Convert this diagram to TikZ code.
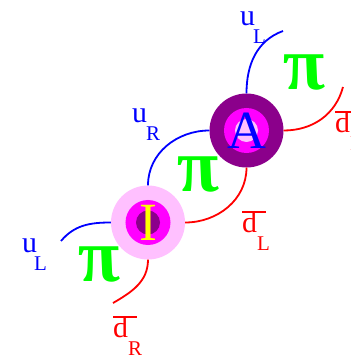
\documentclass[tikz,border=0pt]{standalone}
\usepackage{fontspec}
\setmainfont{Liberation Serif}
\usetikzlibrary{positioning}
\definecolor{Meson_Pink}{HTML}{FFC0FF}
\definecolor{Meson_Magenta}{HTML}{FF00FF}
\definecolor{Meson_Purple}{HTML}{8B008B}
\definecolor{Meson_Green}{HTML}{00FF00}
\definecolor{Meson_Yellow}{HTML}{FFFF00}
\newcommand{\antid}{\rlap{\raisebox{0.64em}{\rule{0.8em}{0.07em}}}d}
\newcommand{\flav}[3]{#1\kern#2\raisebox{-18bp}{\fontsize{21}{21}\selectfont #3}}

\begin{document}
\begin{tikzpicture}[x=1bp, y=1bp,
    ball/.style={circle, inner sep=0pt, minimum size=74bp, font=\fontsize{54}{54}\selectfont},
    quark/.style={anchor=base west, inner sep=0pt, font=\fontsize{30}{30}\selectfont},
    pion/.style={inner sep=0pt, text=Meson_Green, xslant=-0.22, font=\fontsize{76}{76}\selectfont\bfseries\itshape},
    quarkline/.style={line width=1.8bp}]
    \useasboundingbox (0,0) rectangle (351,356);

    \node (I) [ball, fill=Meson_Pink, text=Meson_Yellow, path picture={
        \fill[Meson_Magenta] (path picture bounding box.center) circle (22.5bp);
        \fill[Meson_Purple] (path picture bounding box.center) circle (12bp);}] at (148,133.5) {I};
    \node (A) [ball, fill=Meson_Purple, text=blue, path picture={
        \fill[Meson_Magenta] (path picture bounding box.center) circle (22.5bp);
        \fill[Meson_Pink] (path picture bounding box.center) circle (11.5bp);}] at (246.5,225.5) {A};

    \coordinate (uL1end) at (61,115);
    \coordinate (dR1end) at (113,53);
    \coordinate (uL2end) at (283,325);
    \coordinate (dR2end) at (343,269);

    \draw[quarkline, blue] (I.north) to[out=90, in=180] (A.west);
    \draw[quarkline, red] (I.east) to[out=0, in=-90] (A.south);
    \draw[quarkline, blue] (I.west) to[out=180, in=50] (uL1end);
    \draw[quarkline, red] (I.south) to[out=-90, in=30] (dR1end);
    \draw[quarkline, blue] (A.north) to[out=90, in=200] (uL2end);
    \draw[quarkline, red] (A.east) to[out=0, in=-105] (dR2end);

    \node (uL1) [quark, text=blue] at (22,104) {\flav{u}{-3bp}{L}};
    \node (dR1) [quark, text=red] at (113,19) {\flav{\antid}{0bp}{R}};
    \node (uR) [quark, text=blue] at (132,234) {\flav{u}{-1bp}{R}};
    \node (dL) [quark, text=red] at (242,124) {\flav{\antid}{0bp}{L}};
    \node (uL2) [quark, text=blue] at (240,331) {\flav{u}{-2bp}{L}};
    \node (dR2) [quark, text=red] at (335,224) {\flav{\antid}{0bp}{R}};

    \node (pi1) [pion] at (100,91.5) {π};
    \node (pi2) [pion] at (199,181.5) {π};
    \node (pi3) [pion] at (305,283.5) {π};
\end{tikzpicture}
\end{document}
